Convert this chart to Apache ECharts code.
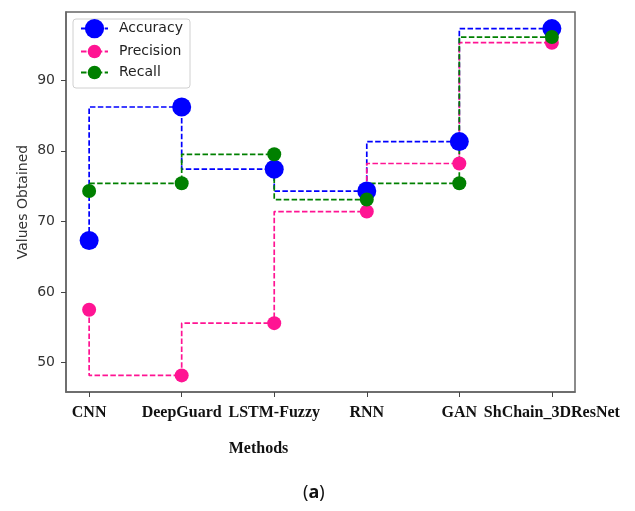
<!DOCTYPE html>
<html>
<head>
<meta charset="utf-8">
<script src="https://cdn.jsdelivr.net/npm/echarts@6/dist/echarts.min.js"></script>
<style>html,body{margin:0;padding:0;background:#fff;}#c{width:635px;height:511px;}</style>
</head>
<body>
<div id="c"></div>
<script>
const categories = ['CNN', 'DeepGuard', 'LSTM-Fuzzy', 'RNN', 'GAN', 'ShChain_3DResNet'];
const accuracy = [67.3, 86.2, 77.4, 74.3, 81.3, 97.3];
const precision = [57.5, 48.2, 55.6, 71.4, 78.2, 95.3];
const recall = [74.3, 75.4, 79.5, 73.1, 75.4, 96.1];
const yTicks = [50, 60, 70, 80, 90];

const chart = echarts.init(document.getElementById('c'), null, {renderer: 'canvas'});
const idx = categories.map((_, i) => i);
const pairs = arr => arr.map((v, i) => [i, v]);
const sans = 'DejaVu Sans';
const serif = 'Liberation Serif';
const dash = [5.5, 2.4];

function series(name, data, color, size) {
  return {
    name: name, type: 'line', step: 'start', data: pairs(data),
    symbol: 'circle', symbolSize: size,
    lineStyle: {color: color, width: 1.7, type: dash},
    itemStyle: {color: color},
    emphasis: {disabled: true},
    animation: false, z: 2
  };
}
function legend(name, top, h) {
  return {
    data: [name], left: 80, top: top, padding: 0,
    itemWidth: 27, itemHeight: h, orient: 'vertical',
    textStyle: {fontFamily: sans, fontSize: 14, color: '#222', padding: [0, 0, 0, 6]},
    selectedMode: false, z: 20
  };
}

chart.setOption({
  backgroundColor: '#fff',
  animation: false,
  grid: {left: 66, top: 12, right: 60, bottom: 119, show: true, borderColor: '#666', borderWidth: 1.5},
  xAxis: {
    type: 'value', min: -0.25, max: 5.25,
    splitLine: {show: false},
    axisLine: {show: true, onZero: false, lineStyle: {color: '#666', width: 1.5}},
    axisTick: {show: true, length: 5, customValues: idx, lineStyle: {color: '#444'}},
    axisLabel: {customValues: idx, formatter: v => categories[Math.round(v)] || '',
      fontFamily: serif, fontWeight: 'bold', fontSize: 16, color: '#111', margin: 13},
    name: 'Methods', nameLocation: 'middle', nameGap: 49, nameMoveOverlap: false,
    nameTextStyle: {fontFamily: serif, fontWeight: 'bold', fontSize: 16, color: '#111', padding: [0, 124, 0, 0]}
  },
  yAxis: {
    type: 'value', min: 45.85, max: 99.65,
    splitLine: {show: false},
    axisLine: {show: true, onZero: false, lineStyle: {color: '#666', width: 1.5}},
    axisTick: {show: true, length: 5, customValues: yTicks, lineStyle: {color: '#444'}},
    axisLabel: {customValues: yTicks, fontFamily: sans, fontSize: 14, color: '#333', margin: 11},
    name: 'Values Obtained', nameLocation: 'middle', nameGap: 36, nameMoveOverlap: false,
    nameTextStyle: {fontFamily: sans, fontSize: 14, color: '#333'}
  },
  legend: [legend('Accuracy', 19, 24), legend('Precision', 44.5, 17), legend('Recall', 65.5, 17)],
  graphic: [
    {type: 'rect', z: 10, shape: {x: 73, y: 19, width: 117, height: 69, r: 3},
      style: {fill: 'rgba(255,255,255,0.85)', stroke: '#d0d0d0', lineWidth: 1}},
    {type: 'text', z: 10, left: 303, top: 484,
      style: {text: '{n|(}{b|a}{n|)}', rich: {
        n: {fontFamily: 'Noto Sans', fontSize: 18, fill: '#111'},
        b: {fontFamily: 'Noto Sans', fontSize: 18, fontWeight: 'bold', fill: '#111'}}}}
  ],
  series: [
    series('Accuracy', accuracy, '#0000ff', 19),
    series('Precision', precision, '#ff1493', 14),
    series('Recall', recall, '#008000', 14)
  ]
});
</script>
</body>
</html>
